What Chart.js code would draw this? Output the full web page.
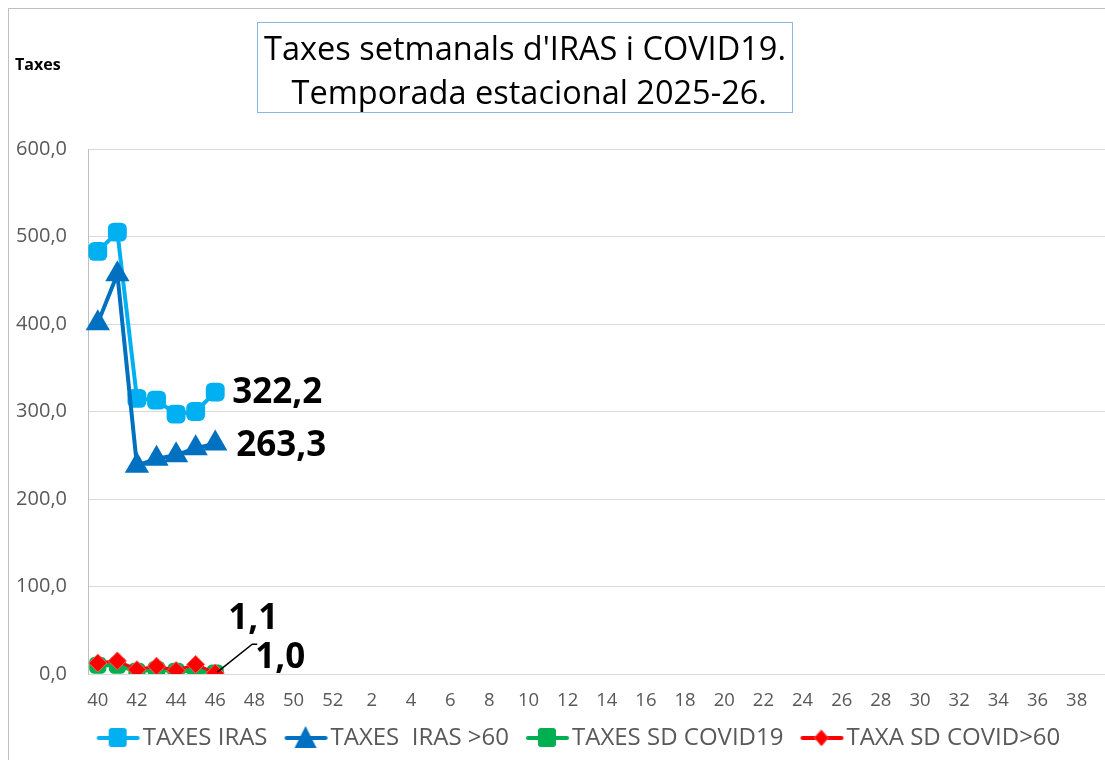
<!DOCTYPE html>
<html>
<head>
<meta charset="utf-8">
<script src="https://cdn.jsdelivr.net/npm/chart.js@4.4.1/dist/chart.umd.min.js"></script>
<style>
  body { margin: 0; background: #fff; font-family: "Open Sans", sans-serif; }
  #wrap { position: relative; width: 1105px; height: 760px; overflow: hidden; }
  #frame { position: absolute; left: 8px; top: 8px; width: 1200px; height: 800px; border: 1px solid #BFBFBF; }
  #titol { position: absolute; left: 257px; top: 22px; width: 536px; height: 91px; border: 1px solid #8EB4E3;
           text-align: center; font-size: 32.5px; line-height: 44px; color: #000; padding-top: 3px; box-sizing: border-box;
           white-space: nowrap; }
  #eix { position: absolute; left: 15px; top: 53px; font-size: 16px; font-weight: bold; color: #000; }
  canvas { position: absolute; left: 0; top: 0; }
</style>
</head>
<body>
<div id="wrap">
  <div id="frame"></div>
  <canvas id="myChart" width="1120" height="760"></canvas>
  <div id="titol">Taxes setmanals d'IRAS i COVID19.<br>&nbsp;Temporada estacional 2025-26.</div>
  <div id="eix">Taxes</div>
</div>
<script>
// setmanes de la temporada 40..52 i 1..39
const setmanes = ['40','41','42','43','44','45','46','47','48','49','50','51','52',
  '1','2','3','4','5','6','7','8','9','10','11','12','13','14','15','16','17','18','19','20',
  '21','22','23','24','25','26','27','28','29','30','31','32','33','34','35','36','37','38','39'];

const taxesIras = [483, 505, 315, 313, 297, 300, 322.2];
const taxesIras60 = [401, 457, 238, 246, 250, 258, 263.3];
const taxesCovid = [10, 10, 3, 5, 3, 4, 1.0];
const taxaCovid60 = [12.5, 15, 5, 9, 4, 11, 1.1];

const nomsSeries = ['TAXES IRAS', 'TAXES  IRAS >60', 'TAXES SD COVID19', 'TAXA SD COVID>60'];

const omplir = (arr) => setmanes.map((s, i) => i < arr.length ? arr[i] : null);

const gris = '#595959';

// icona de llegenda: marge buit a l'esquerra + linia + marcador
function iconaLlegenda(color, forma, vora) {
    const c = document.createElement('canvas');
    c.width = 65; c.height = 26;
    const ctx = c.getContext('2d');
    ctx.translate(19, 0);
    ctx.strokeStyle = color;
    ctx.lineWidth = 4;
    ctx.lineCap = 'round';
    ctx.beginPath(); ctx.moveTo(2, 13); ctx.lineTo(41, 13); ctx.stroke();
    ctx.fillStyle = color;
    if (forma === 'quadrat') {
        ctx.beginPath();
        ctx.roundRect(12, 3, 18, 19, 3);
        ctx.fill();
    } else if (forma === 'triangle') {
        ctx.beginPath();
        ctx.moveTo(21, 1); ctx.lineTo(32, 23); ctx.lineTo(10, 23); ctx.closePath();
        ctx.fill();
    } else {
        ctx.beginPath();
        ctx.moveTo(21, 5); ctx.lineTo(28, 13); ctx.lineTo(21, 21); ctx.lineTo(14, 13); ctx.closePath();
        ctx.fill();
        ctx.strokeStyle = vora; ctx.lineWidth = 1; ctx.stroke();
    }
    return c;
}

const colors = ['#00B0F0', '#0070C0', '#00B050', '#FF0000'];
const icones = [
    iconaLlegenda(colors[0], 'quadrat'),
    iconaLlegenda(colors[1], 'triangle'),
    iconaLlegenda(colors[2], 'quadrat'),
    iconaLlegenda(colors[3], 'rombe', '#FF6060')
];

// etiquetes dels darrers valors
const etiquetes = {
    id: 'etiquetes',
    afterDatasetsDraw(chart) {
        const ctx = chart.ctx;
        ctx.save();
        ctx.fillStyle = '#000';
        ctx.font = 'bold 35px "Open Sans"';
        ctx.textBaseline = 'middle';
        ctx.textAlign = 'left';
        const darrer = (ds) => {
            const meta = chart.getDatasetMeta(ds);
            const arr = [taxesIras, taxesIras60, taxesCovid, taxaCovid60][ds];
            return { p: meta.data[arr.length - 1], v: arr[arr.length - 1] };
        };
        const fmt = v => v.toFixed(1).replace('.', ',');
        let d = darrer(0);
        ctx.fillText(fmt(d.v), d.p.x + 17, d.p.y + 1);
        d = darrer(1);
        ctx.fillText(fmt(d.v), d.p.x + 21, d.p.y + 2);
        d = darrer(3);
        ctx.fillText(fmt(d.v), d.p.x + 13, d.p.y - 54);
        d = darrer(2);
        ctx.fillText(fmt(d.v), d.p.x + 40, d.p.y - 15);
        // linia guia
        ctx.strokeStyle = '#000';
        ctx.lineWidth = 1.5;
        ctx.beginPath();
        ctx.moveTo(d.p.x + 2, d.p.y - 1);
        ctx.lineTo(d.p.x + 37, d.p.y - 29);
        ctx.lineTo(d.p.x + 42, d.p.y - 29);
        ctx.stroke();
        ctx.restore();
    }
};

// desplaça la llegenda cap a la dreta com a l'original
const llegendaDreta = {
    id: 'llegendaDreta',
    afterLayout(chart) {
        chart.legend.left += 15;
        chart.legend.right += 15;
    }
};

const ctx = document.getElementById('myChart').getContext('2d');
new Chart(ctx, {
    type: 'line',
    data: {
        labels: setmanes,
        datasets: [
            {
                label: nomsSeries[0], data: omplir(taxesIras), order: 4,
                borderColor: colors[0], backgroundColor: colors[0], borderWidth: 4,
                pointStyle: 'rectRounded', pointRadius: 11, pointBorderWidth: 0
            },
            {
                label: nomsSeries[1], data: omplir(taxesIras60), order: 3,
                borderColor: colors[1], backgroundColor: colors[1], borderWidth: 4,
                pointStyle: 'triangle', pointRadius: 14, pointBorderWidth: 0
            },
            {
                label: nomsSeries[2], data: omplir(taxesCovid), order: 2,
                borderColor: colors[2], backgroundColor: colors[2], borderWidth: 4,
                pointStyle: 'rectRounded', pointRadius: 10, pointBorderWidth: 0
            },
            {
                label: nomsSeries[3], data: omplir(taxaCovid60), order: 1,
                borderColor: colors[3], backgroundColor: colors[3], borderWidth: 3,
                pointStyle: 'rectRot', pointRadius: 9, pointBorderWidth: 1,
                pointBorderColor: '#FF6060'
            }
        ]
    },
    options: {
        responsive: false,
        animation: false,
        layout: { padding: { top: 149, right: 0, bottom: 0, left: 0 } },
        scales: {
            x: {
                offset: true,
                grid: { display: false, drawTicks: false },
                border: { color: '#D9D9D9', width: 1 },
                ticks: {
                    autoSkip: false, maxRotation: 0, padding: 16,
                    color: gris, font: { family: 'Open Sans', size: 18.5 },
                    callback: (v, i) => i % 2 === 0 ? setmanes[i] : ''
                },
                afterFit: (s) => { s.height = 42; }
            },
            y: {
                min: 0, max: 600,
                grid: { color: '#D9D9D9', drawTicks: false },
                border: { color: '#BFBFBF', width: 1 },
                ticks: {
                    stepSize: 100, padding: 21,
                    color: gris, font: { family: 'Open Sans', size: 20 },
                    callback: v => v.toFixed(1).replace('.', ',')
                },
                afterFit: (s) => { s.width = 88; }
            }
        },
        plugins: {
            tooltip: { enabled: false },
            legend: {
                position: 'bottom',
                labels: {
                    color: gris,
                    font: { family: 'Open Sans', size: 24 },
                    usePointStyle: true,
                    pointStyleWidth: 41,
                    boxHeight: 24,
                    padding: 10,
                    generateLabels: (chart) => chart.data.datasets.map((ds, i) => ({
                        text: ds.label,
                        pointStyle: icones[i],
                        fillStyle: ds.borderColor,
                        strokeStyle: ds.borderColor,
                        lineWidth: 0,
                        fontColor: gris,
                        hidden: false,
                        datasetIndex: i
                    }))
                }
            }
        }
    },
    plugins: [etiquetes, llegendaDreta]
});
</script>
</body>
</html>
